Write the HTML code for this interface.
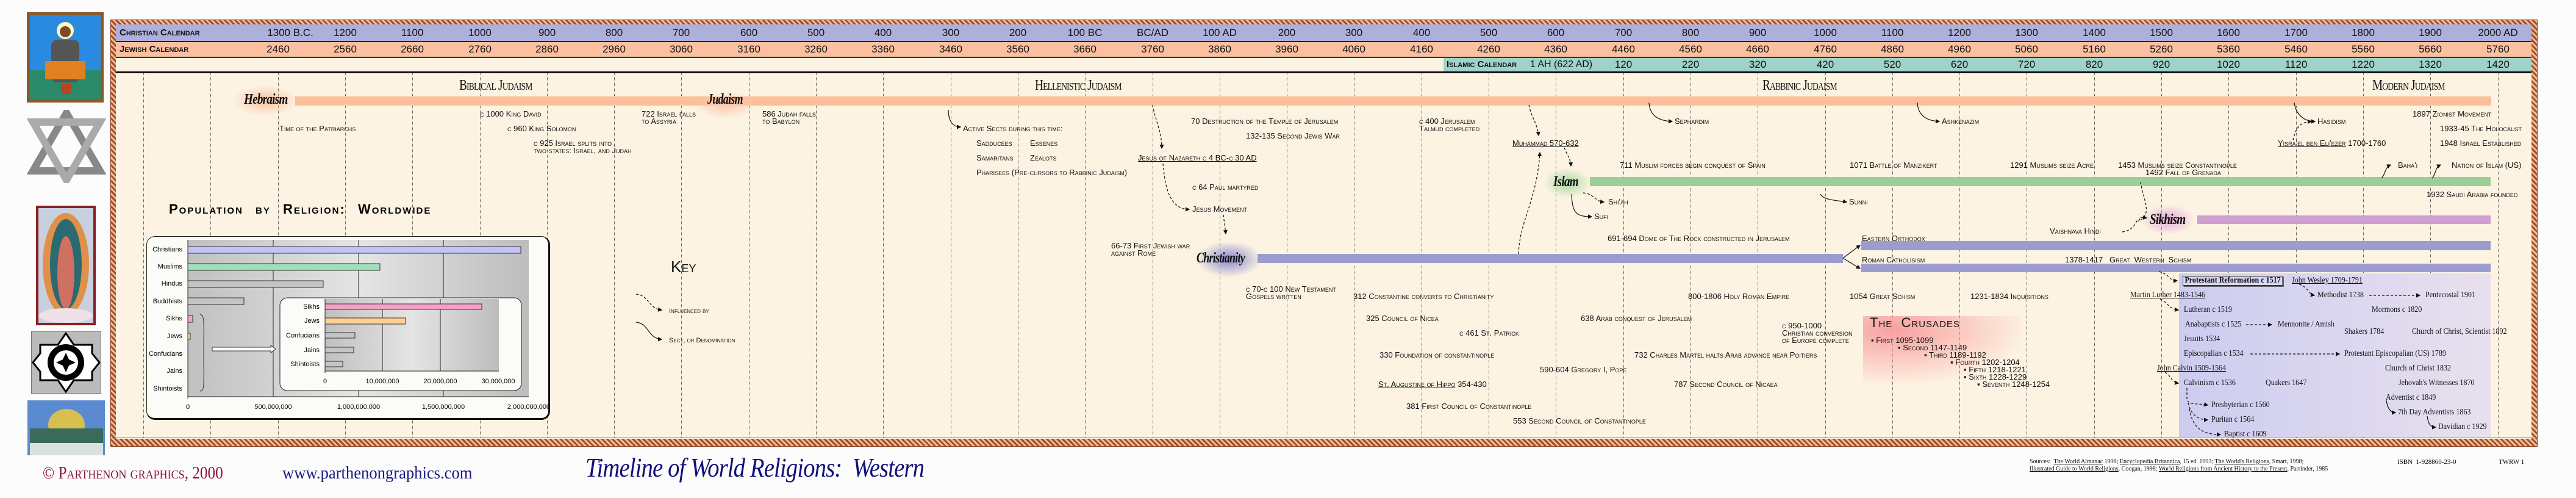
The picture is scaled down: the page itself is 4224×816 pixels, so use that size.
<!DOCTYPE html>
<html><head><meta charset="utf-8">
<style>
*{margin:0;padding:0;box-sizing:border-box}
body{width:4224px;height:816px;position:relative;overflow:hidden;background:#fcfcfc;font-family:"Liberation Sans",sans-serif}
.a{position:absolute}
.e{position:absolute;font:13px "Liberation Sans Narrow","Liberation Sans",sans-serif;font-variant:small-caps;white-space:nowrap;line-height:12px;color:#111}
.s{position:absolute;font:14px "Liberation Serif",serif;white-space:nowrap;line-height:14px;color:#111;transform:scaleX(.86);transform-origin:left}
.g{position:absolute;top:120px;height:597px;border-left:1px dotted #555}
.cal{position:absolute;font:17px "Liberation Sans Narrow","Liberation Sans",sans-serif;line-height:20px;width:90px;text-align:center;color:#111}
.lab{position:absolute;font:bold 15px "Liberation Sans",sans-serif;font-variant:small-caps;line-height:20px;color:#111}
.per{position:absolute;font:24px "Liberation Serif",serif;font-variant:small-caps;letter-spacing:-1px;white-space:nowrap;color:#111;transform:scaleX(.8);transform-origin:left}
.rel{position:absolute;font:italic bold 24px "Liberation Serif",serif;letter-spacing:-1px;white-space:nowrap;color:#111}
.bar{position:absolute}
.u{text-decoration:underline}
</style></head><body>

<svg class="a" style="left:44px;top:20px" width="126" height="148"><rect width="126" height="148" fill="#8a5a2a"/><rect x="5" y="5" width="116" height="138" fill="#2a8ae0"/><rect x="5" y="95" width="116" height="48" fill="#2a8a6a"/><circle cx="63" cy="30" r="14" fill="#fff8c0"/><circle cx="63" cy="32" r="9" fill="#7a4a2a"/><rect x="40" y="45" width="46" height="70" rx="10" fill="#555"/><rect x="30" y="80" width="66" height="30" fill="#e08020"/><rect x="56" y="118" width="16" height="16" fill="#c04020"/></svg>
<svg class="a" style="left:44px;top:180px" width="130" height="120"><polygon points="65,5 120,100 10,100" fill="none" stroke="#888" stroke-width="12"/><polygon points="65,115 120,20 10,20" fill="none" stroke="#aaa" stroke-width="12"/></svg>
<svg class="a" style="left:59px;top:337px" width="98" height="196"><rect width="98" height="196" fill="#8a2020"/><rect x="4" y="4" width="90" height="188" fill="#c8d0e0"/><ellipse cx="49" cy="96" rx="38" ry="84" fill="#e0904a"/><ellipse cx="49" cy="96" rx="26" ry="74" fill="#2a6a70"/><ellipse cx="49" cy="110" rx="14" ry="60" fill="#d07060"/><ellipse cx="49" cy="180" rx="44" ry="12" fill="#f0e0e8"/></svg>
<svg class="a" style="left:51px;top:543px" width="115" height="102"><rect width="115" height="102" fill="#bbb" stroke="#333"/><polygon points="57,3 70,22 100,22 100,36 112,51 100,66 100,80 70,80 57,99 44,80 15,80 15,66 3,51 15,36 15,22 44,22" fill="#fff" stroke="#000" stroke-width="3"/><circle cx="57" cy="51" r="30" fill="#000"/><circle cx="57" cy="51" r="20" fill="#fff"/><polygon points="57,35 62,46 73,51 62,56 57,67 52,56 41,51 52,46" fill="#000"/></svg>
<svg class="a" style="left:45px;top:656px" width="127" height="90"><rect width="127" height="90" fill="#5a8ad0"/><ellipse cx="64" cy="40" rx="30" ry="26" fill="#d8c050"/><rect x="4" y="46" width="120" height="44" fill="#3a6a5a"/><rect x="4" y="70" width="120" height="20" fill="#d8e0e0"/></svg>

<div class="a" style="left:181px;top:32px;width:3980px;height:700px;background:repeating-linear-gradient(45deg,#a84a28 0 3px,#e8c098 3px 6px);border:1px solid #8a3a1a"></div>
<div class="a" style="left:190px;top:40px;width:3961px;height:679px;background:#fdf3e2"></div>
<div class="a" style="left:190px;top:716px;width:3960px;height:2px;background:#a8c8e8"></div>

<div class="a" style="left:190px;top:40px;width:3961px;height:27px;background:#aeb0dc"></div>
<div class="a" style="left:190px;top:67px;width:3961px;height:2px;background:#222"></div>
<div class="a" style="left:190px;top:69px;width:3961px;height:24px;background:#fbc0a0"></div>
<div class="a" style="left:190px;top:93px;width:3961px;height:2px;background:#333"></div>
<div class="a" style="left:2367px;top:95px;width:1784px;height:22px;background:#9fd2c8"></div>
<div class="a" style="left:190px;top:117px;width:3961px;height:3px;background:#111"></div>
<div class="lab" style="left:196px;top:44px">Christian Calendar</div>
<div class="lab" style="left:196px;top:71px">Jewish Calendar</div>
<div class="lab" style="left:2372px;top:96px">Islamic Calendar</div>
<div class="cal" style="left:2505px;top:96px;width:110px;font-size:16px">1 AH (622 AD)</div>

<div class="g" style="left:235px"></div><div class="g" style="left:345px"></div><div class="g" style="left:456px"></div><div class="g" style="left:566px"></div><div class="g" style="left:676px"></div><div class="g" style="left:787px"></div><div class="g" style="left:897px"></div><div class="g" style="left:1007px"></div><div class="g" style="left:1117px"></div><div class="g" style="left:1228px"></div><div class="g" style="left:1338px"></div><div class="g" style="left:1448px"></div><div class="g" style="left:1559px"></div><div class="g" style="left:1669px"></div><div class="g" style="left:1779px"></div><div class="g" style="left:1890px"></div><div class="g" style="left:2000px"></div><div class="g" style="left:2110px"></div><div class="g" style="left:2220px"></div><div class="g" style="left:2331px"></div><div class="g" style="left:2441px"></div><div class="g" style="left:2551px"></div><div class="g" style="left:2662px"></div><div class="g" style="left:2772px"></div><div class="g" style="left:2882px"></div><div class="g" style="left:2993px"></div><div class="g" style="left:3103px"></div><div class="g" style="left:3213px"></div><div class="g" style="left:3323px"></div><div class="g" style="left:3434px"></div><div class="g" style="left:3544px"></div><div class="g" style="left:3654px"></div><div class="g" style="left:3765px"></div><div class="g" style="left:3875px"></div><div class="g" style="left:3985px"></div><div class="g" style="left:4096px"></div>

<div class="cal" style="left:421px;top:44px;width:110px">1300 B.C.</div>
<div class="cal" style="left:521px;top:44px">1200</div><div class="cal" style="left:631px;top:44px">1100</div><div class="cal" style="left:742px;top:44px">1000</div><div class="cal" style="left:852px;top:44px">900</div><div class="cal" style="left:962px;top:44px">800</div><div class="cal" style="left:1072px;top:44px">700</div><div class="cal" style="left:1183px;top:44px">600</div><div class="cal" style="left:1293px;top:44px">500</div><div class="cal" style="left:1403px;top:44px">400</div><div class="cal" style="left:1514px;top:44px">300</div><div class="cal" style="left:1624px;top:44px">200</div><div class="cal" style="left:1734px;top:44px">100 BC</div><div class="cal" style="left:1845px;top:44px">BC/AD</div><div class="cal" style="left:1955px;top:44px">100 AD</div><div class="cal" style="left:2065px;top:44px">200</div><div class="cal" style="left:2175px;top:44px">300</div><div class="cal" style="left:2286px;top:44px">400</div><div class="cal" style="left:2396px;top:44px">500</div><div class="cal" style="left:2506px;top:44px">600</div><div class="cal" style="left:2617px;top:44px">700</div><div class="cal" style="left:2727px;top:44px">800</div><div class="cal" style="left:2837px;top:44px">900</div><div class="cal" style="left:2948px;top:44px">1000</div><div class="cal" style="left:3058px;top:44px">1100</div><div class="cal" style="left:3168px;top:44px">1200</div><div class="cal" style="left:3278px;top:44px">1300</div><div class="cal" style="left:3389px;top:44px">1400</div><div class="cal" style="left:3499px;top:44px">1500</div><div class="cal" style="left:3609px;top:44px">1600</div><div class="cal" style="left:3720px;top:44px">1700</div><div class="cal" style="left:3830px;top:44px">1800</div><div class="cal" style="left:3940px;top:44px">1900</div><div class="cal" style="left:4051px;top:44px">2000 AD</div>
<div class="cal" style="left:411px;top:71px">2460</div><div class="cal" style="left:521px;top:71px">2560</div><div class="cal" style="left:631px;top:71px">2660</div><div class="cal" style="left:742px;top:71px">2760</div><div class="cal" style="left:852px;top:71px">2860</div><div class="cal" style="left:962px;top:71px">2960</div><div class="cal" style="left:1072px;top:71px">3060</div><div class="cal" style="left:1183px;top:71px">3160</div><div class="cal" style="left:1293px;top:71px">3260</div><div class="cal" style="left:1403px;top:71px">3360</div><div class="cal" style="left:1514px;top:71px">3460</div><div class="cal" style="left:1624px;top:71px">3560</div><div class="cal" style="left:1734px;top:71px">3660</div><div class="cal" style="left:1845px;top:71px">3760</div><div class="cal" style="left:1955px;top:71px">3860</div><div class="cal" style="left:2065px;top:71px">3960</div><div class="cal" style="left:2175px;top:71px">4060</div><div class="cal" style="left:2286px;top:71px">4160</div><div class="cal" style="left:2396px;top:71px">4260</div><div class="cal" style="left:2506px;top:71px">4360</div><div class="cal" style="left:2617px;top:71px">4460</div><div class="cal" style="left:2727px;top:71px">4560</div><div class="cal" style="left:2837px;top:71px">4660</div><div class="cal" style="left:2948px;top:71px">4760</div><div class="cal" style="left:3058px;top:71px">4860</div><div class="cal" style="left:3168px;top:71px">4960</div><div class="cal" style="left:3278px;top:71px">5060</div><div class="cal" style="left:3389px;top:71px">5160</div><div class="cal" style="left:3499px;top:71px">5260</div><div class="cal" style="left:3609px;top:71px">5360</div><div class="cal" style="left:3720px;top:71px">5460</div><div class="cal" style="left:3830px;top:71px">5560</div><div class="cal" style="left:3940px;top:71px">5660</div><div class="cal" style="left:4051px;top:71px">5760</div>
<div class="cal" style="left:2617px;top:96px">120</div><div class="cal" style="left:2727px;top:96px">220</div><div class="cal" style="left:2837px;top:96px">320</div><div class="cal" style="left:2948px;top:96px">420</div><div class="cal" style="left:3058px;top:96px">520</div><div class="cal" style="left:3168px;top:96px">620</div><div class="cal" style="left:3278px;top:96px">720</div><div class="cal" style="left:3389px;top:96px">820</div><div class="cal" style="left:3499px;top:96px">920</div><div class="cal" style="left:3609px;top:96px">1020</div><div class="cal" style="left:3720px;top:96px">1120</div><div class="cal" style="left:3830px;top:96px">1220</div><div class="cal" style="left:3940px;top:96px">1320</div><div class="cal" style="left:4051px;top:96px">1420</div>

<div class="per" style="left:753px;top:127px">Biblical Judaism</div>
<div class="per" style="left:1697px;top:127px">Hellenistic Judaism</div>
<div class="per" style="left:2890px;top:127px">Rabbinic Judaism</div>
<div class="per" style="left:3890px;top:127px">Modern Judaism</div>

<div class="bar" style="left:484px;top:158px;width:3601px;height:15px;background:#fbc09a"></div>
<div class="a" style="left:380px;top:140px;width:110px;height:50px;border-radius:50%;background:radial-gradient(#f9c0a0,rgba(253,243,226,0) 70%)"></div>
<div class="rel" style="left:400px;top:150px;transform:scaleX(.8);transform-origin:left">Hebraism</div>
<div class="a" style="left:1140px;top:150px;width:100px;height:45px;border-radius:50%;background:radial-gradient(#f9c8b0,rgba(253,243,226,0) 70%)"></div>
<div class="rel" style="left:1160px;top:150px;transform:scaleX(.75);transform-origin:left">Judaism</div>

<div class="bar" style="left:2607px;top:290px;width:1477px;height:15px;background:#9ccf98"></div>
<div class="a" style="left:2530px;top:275px;width:80px;height:50px;border-radius:50%;background:radial-gradient(#a8d8a0,rgba(253,243,226,0) 70%)"></div>
<div class="rel" style="left:2547px;top:285px;transform:scaleX(.8);transform-origin:left">Islam</div>

<div class="bar" style="left:2062px;top:416px;width:960px;height:15px;background:#9c9cd0"></div>
<div class="a" style="left:1960px;top:395px;width:110px;height:60px;border-radius:50%;background:radial-gradient(#8888cc,rgba(253,243,226,0) 70%)"></div>
<div class="rel" style="left:1962px;top:410px;transform:scaleX(.75);transform-origin:left">Christianity</div>
<div class="bar" style="left:3052px;top:395px;width:1032px;height:15px;background:#9c9cd0"></div>
<div class="bar" style="left:3052px;top:432px;width:1032px;height:14px;background:#9c9cd0"></div>

<div class="bar" style="left:3603px;top:353px;width:481px;height:14px;background:#d0a0d0"></div>
<div class="a" style="left:3510px;top:335px;width:90px;height:50px;border-radius:50%;background:radial-gradient(#e0a8d8,rgba(253,243,226,0) 70%)"></div>
<div class="rel" style="left:3525px;top:347px;transform:scaleX(.8);transform-origin:left">Sikhism</div>

<div class="a" style="left:3573px;top:448px;width:511px;height:268px;background:linear-gradient(90deg,#ccccf0,#e8e0ee)"></div>
<div class="a" style="left:3055px;top:518px;width:260px;height:110px;background:radial-gradient(ellipse at 20% 20%,#f7a0a0,rgba(253,243,226,0) 75%)"></div>

<div class="e" style="left:458px;top:205px">Time of the Patriarchs</div>
<div class="e" style="left:787px;top:181px">c 1000 King David</div>
<div class="e" style="left:832px;top:205px">c 960 King Solomon</div>
<div class="e" style="left:875px;top:229px">c 925 Israel splits into<br>two states: Israel, and Judah</div>
<div class="e" style="left:1052px;top:181px">722 Israel falls<br>to Assyria</div>
<div class="e" style="left:1250px;top:181px">586 Judah falls<br>to Babylon</div>
<div class="e" style="left:1579px;top:205px">Active Sects during this time:</div>
<div class="e" style="left:1601px;top:229px">Sadducees</div><div class="e" style="left:1689px;top:229px">Essenes</div>
<div class="e" style="left:1601px;top:253px">Samaritans</div><div class="e" style="left:1689px;top:253px">Zealots</div>
<div class="e" style="left:1601px;top:277px">Pharisees (Pre-cursors to Rabbinic Judaism)</div>
<div class="e" style="left:1822px;top:397px">66-73 First Jewish war<br>against Rome</div>
<div class="e" style="left:1953px;top:193px">70 Destruction of the Temple of Jerusalem</div>
<div class="e" style="left:2043px;top:217px">132-135 Second Jewis War</div>
<div class="e" style="left:2327px;top:193px">c 400 Jerusalem<br>Talmud completed</div>
<div class="e u" style="left:2480px;top:229px">Muhammad 570-632</div>
<div class="e u" style="left:1866px;top:253px">Jesus of Nazareth c 4 BC-c 30 AD</div>
<div class="e" style="left:1955px;top:301px">c 64 Paul martyred</div>
<div class="e" style="left:1955px;top:337px">Jesus Movement</div>
<div class="e" style="left:2656px;top:265px">711 Muslim forces begin conquest of Spain</div>
<div class="e" style="left:2637px;top:325px">Shi'ah</div>
<div class="e" style="left:2614px;top:349px">Sufi</div>
<div class="e" style="left:2636px;top:385px">691-694 Dome of The Rock constructed in Jerusalem</div>
<div class="e" style="left:3032px;top:325px">Sunni</div>
<div class="e" style="left:2746px;top:193px">Sephardim</div>
<div class="e" style="left:3184px;top:193px">Ashkenazim</div>
<div class="e" style="left:3800px;top:193px">Hasidism</div>
<div class="e" style="left:3956px;top:181px">1897 Zionist Movement</div>
<div class="e" style="left:4001px;top:205px">1933-45 The Holocaust</div>
<div class="e" style="left:4001px;top:229px">1948 Israel Established</div>
<div class="e" style="left:3735px;top:229px"><span class="u">Yisra'el ben Eli'ezer</span> 1700-1760</div>
<div class="e" style="left:3033px;top:265px">1071 Battle of Manzikert</div>
<div class="e" style="left:3296px;top:265px">1291 Muslims seize Acre</div>
<div class="e" style="left:3473px;top:265px">1453 Muslims seize Constantinople</div>
<div class="e" style="left:3518px;top:277px">1492 Fall of Grenada</div>
<div class="e" style="left:3932px;top:265px">Baha'i</div>
<div class="e" style="left:4020px;top:265px">Nation of Islam (US)</div>
<div class="e" style="left:3979px;top:313px">1932 Saudi Arabia founded</div>
<div class="e" style="left:3361px;top:373px">Vaishnava Hindi</div>
<div class="e" style="left:3053px;top:385px">Eastern Orthodox</div>
<div class="e" style="left:3053px;top:420px">Roman Catholisism</div>
<div class="e" style="left:3386px;top:420px">1378-1417 &nbsp; Great &nbsp;Western &nbsp;Schism</div>
<div class="e" style="left:2043px;top:468px">c 70-c 100 New Testament<br>Gospels written</div>
<div class="e" style="left:2219px;top:480px">312 Constantine converts to Christianity</div>
<div class="e" style="left:2240px;top:516px">325 Council of Nicea</div>
<div class="e" style="left:2592px;top:516px">638 Arab conquest of Jerusalem</div>
<div class="e" style="left:2393px;top:540px">c 461 St. Patrick</div>
<div class="e" style="left:2262px;top:576px">330 Foundation of constantinople</div>
<div class="e" style="left:2680px;top:576px">732 Charles Martel halts Arab advance near Poitiers</div>
<div class="e" style="left:2525px;top:600px">590-604 Gregory I, Pope</div>
<div class="e" style="left:2260px;top:624px"><span class="u">St. Augustine of Hippo</span> 354-430</div>
<div class="e" style="left:2306px;top:660px">381 First Council of Constantinople</div>
<div class="e" style="left:2481px;top:684px">553 Second Council of Constantinople</div>
<div class="e" style="left:2768px;top:480px">800-1806 Holy Roman Empire</div>
<div class="e" style="left:3033px;top:480px">1054 Great Schism</div>
<div class="e" style="left:3231px;top:480px">1231-1834 Inquisitions</div>
<div class="e" style="left:2922px;top:528px">c 950-1000<br>Christian conversion<br>of Europe complete</div>
<div class="e" style="left:2745px;top:624px">787 Second Council of Nicaea</div>
<div class="e" style="left:3066px;top:518px;font-size:22px;line-height:22px;letter-spacing:1px">The &nbsp;Crusades</div>
<div class="e" style="left:3068px;top:552px">▪ First 1095-1099</div>
<div class="e" style="left:3112px;top:564px">▪ Second 1147-1149</div>
<div class="e" style="left:3155px;top:576px">▪ Third 1189-1192</div>
<div class="e" style="left:3198px;top:588px">▪ Fourth 1202-1204</div>
<div class="e" style="left:3220px;top:600px">▪ Fifth 1218-1221</div>
<div class="e" style="left:3220px;top:612px">▪ Sixth 1228-1229</div>
<div class="e" style="left:3242px;top:624px">▪ Seventh 1248-1254</div>

<div class="s" style="left:3579px;top:452px;font-weight:bold;border:1px solid #222;box-shadow:2px 2px 0 #666;padding:0 3px;background:#d8d8f4">Protestant Reformation c 1517</div>
<div class="s u" style="left:3758px;top:453px">John Wesley 1709-1791</div>
<div class="s u" style="left:3493px;top:477px">Martin Luther 1483-1546</div>
<div class="s" style="left:3800px;top:477px">Methodist 1738</div>
<div class="s" style="left:3977px;top:477px">Pentecostal 1901</div>
<div class="s" style="left:3581px;top:501px">Lutheran c 1519</div>
<div class="s" style="left:3889px;top:501px">Mormons c 1820</div>
<div class="s" style="left:3583px;top:525px">Anabaptists c 1525</div>
<div class="s" style="left:3735px;top:525px">Mennonite / Amish</div>
<div class="s" style="left:3844px;top:537px">Shakers 1784</div>
<div class="s" style="left:3955px;top:537px">Church of Christ, Scientist 1892</div>
<div class="s" style="left:3581px;top:549px">Jesuits 1534</div>
<div class="s" style="left:3581px;top:573px">Episcopalian c 1534</div>
<div class="s" style="left:3844px;top:573px">Protestant Episcopalian (US) 1789</div>
<div class="s u" style="left:3537px;top:597px">John Calvin 1509-1564</div>
<div class="s" style="left:3911px;top:597px">Church of Christ 1832</div>
<div class="s" style="left:3581px;top:621px">Calvinism c 1536</div>
<div class="s" style="left:3715px;top:621px">Quakers 1647</div>
<div class="s" style="left:3933px;top:621px">Jehovah's Witnesses 1870</div>
<div class="s" style="left:3912px;top:645px">Adventist c 1849</div>
<div class="s" style="left:3626px;top:657px">Presbyterian c 1560</div>
<div class="s" style="left:3932px;top:669px">7th Day Adventists 1863</div>
<div class="s" style="left:3626px;top:681px">Puritan c 1564</div>
<div class="s" style="left:3998px;top:693px">Davidian c 1929</div>
<div class="s" style="left:3647px;top:705px">Baptist c 1609</div>

<div class="e" style="left:1100px;top:424px;font-size:26px;line-height:26px">Key</div>
<div class="e" style="left:1097px;top:504px;font-size:11px">Influenced by</div>
<div class="e" style="left:1097px;top:552px;font-size:11px">Sect, or Denomination</div>

<svg class="a" style="left:0;top:0" width="4224" height="816" fill="none" stroke="#111" stroke-width="1.2">
<defs><marker id="m" markerWidth="6" markerHeight="6" refX="5" refY="3" orient="auto"><path d="M0,0 L6,3 L0,6z" fill="#111" stroke="none"/></marker></defs>
<g stroke-dasharray="4,3">
<path d="M1043,482 C1065,484 1062,505 1085,508" marker-end="url(#m)"/>
<path d="M1890,172 C1895,200 1905,215 1905,243" marker-end="url(#m)"/>
<path d="M1907,268 C1910,300 1915,343 1950,343" marker-end="url(#m)"/>
<path d="M2006,352 L2010,383" marker-end="url(#m)"/>
<path d="M2507,172 C2512,195 2520,200 2523,222" marker-end="url(#m)"/>
<path d="M2565,242 C2570,255 2575,260 2576,272" marker-end="url(#m)"/>
<path d="M2490,416 C2492,360 2520,330 2525,250" marker-end="url(#m)"/>
<path d="M2596,316 C2615,318 2615,330 2630,331" marker-end="url(#m)"/>
<path d="M3760,230 C3765,205 3775,200 3790,199" marker-end="url(#m)"/>
<path d="M3510,298 C3515,330 3530,350 3507,362 L3510,356 L3520,357" marker-end="url(#m)"/>
<path d="M3480,380 C3495,378 3500,370 3505,360"/>
<path d="M3540,445 C3560,450 3555,460 3570,460" marker-end="url(#m)"/>
<path d="M3770,466 C3785,470 3785,482 3795,484" marker-end="url(#m)"/>
<path d="M3885,484 L3968,484" marker-end="url(#m)"/>
<path d="M3542,490 C3555,495 3555,506 3572,508" marker-end="url(#m)"/>
<path d="M3683,532 L3725,532" marker-end="url(#m)"/>
<path d="M3690,580 L3836,580" marker-end="url(#m)"/>
<path d="M3550,610 C3560,615 3560,626 3572,628" marker-end="url(#m)"/>
<path d="M3586,636 L3586,655 C3590,665 3605,660 3620,664" marker-end="url(#m)"/>
<path d="M3588,660 C3592,680 3605,688 3620,688" marker-end="url(#m)"/>
<path d="M3590,670 C3595,700 3610,712 3641,712" marker-end="url(#m)"/>
</g>
<path d="M1043,528 C1065,530 1062,555 1085,556" marker-end="url(#m)"/>
<path d="M1555,180 C1555,195 1560,208 1575,208" marker-end="url(#m)"/>
<path d="M2577,318 C2578,350 2585,355 2610,355" marker-end="url(#m)"/>
<path d="M2704,168 C2705,190 2720,198 2742,199" marker-end="url(#m)"/>
<path d="M3144,168 C3145,190 3160,198 3180,199" marker-end="url(#m)"/>
<path d="M3762,168 C3765,190 3780,199 3796,199" marker-end="url(#m)"/>
<path d="M2985,318 C2990,328 3010,328 3028,331" marker-end="url(#m)"/>
<path d="M3022,423 L3050,402" marker-end="url(#m)"/>
<path d="M3022,423 L3050,440" marker-end="url(#m)"/>
<path d="M3905,292 C3912,285 3910,275 3920,270" marker-end="url(#m)"/>
<path d="M3988,292 C3995,285 3992,275 4002,270" marker-end="url(#m)"/>
<path d="M3913,656 C3915,670 3920,676 3928,676" marker-end="url(#m)"/>
<path d="M3980,682 C3982,695 3985,700 3994,700" marker-end="url(#m)"/>
</svg>

<div class="a" style="left:277px;top:330px;font:bold 22px 'Liberation Sans',sans-serif;font-variant:small-caps;letter-spacing:2px;word-spacing:12px;white-space:nowrap">Population by Religion: Worldwide</div>
<div class="a" style="left:240px;top:387px;width:662px;height:301px;background:#fbfbf8;border:1px solid #222;border-right:3px solid #111;border-bottom:3px solid #111;border-radius:14px"></div>
<svg class="a" style="left:240px;top:387px" width="662" height="301" font-family="Liberation Sans Narrow,Liberation Sans,sans-serif" font-size="11">
<defs><linearGradient id="pg" x1="0" x2="1"><stop offset="0" stop-color="#c0c0c0"/><stop offset=".5" stop-color="#e4e4e4"/><stop offset="1" stop-color="#bdbdbd"/></linearGradient></defs>
<rect x="68" y="6" width="559" height="257" fill="url(#pg)"/>
<g stroke="#222"><line x1="208" y1="6" x2="208" y2="263"/><line x1="348" y1="6" x2="348" y2="263"/><line x1="487" y1="6" x2="487" y2="263"/><line x1="68" y1="6" x2="68" y2="266"/><line x1="68" y1="263" x2="627" y2="263"/></g>
<g stroke="#333"><rect x="68" y="17" width="546" height="11" fill="#c4c4f4"/><rect x="68" y="45" width="315" height="11" fill="#9ee0b8"/><rect x="68" y="73" width="222" height="11" fill="#c4c4c4"/><rect x="68" y="101" width="92" height="11" fill="#c4c4c4"/><rect x="68" y="130" width="8" height="11" fill="#f4a0c8"/><rect x="68" y="159" width="4" height="10" fill="#ffd090"/></g>
<g text-anchor="end"><text x="59" y="25">Christians</text><text x="59" y="53">Muslims</text><text x="59" y="81">Hindus</text><text x="59" y="110">Buddhists</text><text x="59" y="138">Sikhs</text><text x="59" y="167">Jews</text><text x="59" y="196">Confucians</text><text x="59" y="224">Jains</text><text x="59" y="253">Shintoists</text></g>
<g text-anchor="middle"><text x="68" y="283">0</text><text x="208" y="283">500,000,000</text><text x="348" y="283">1,000,000,000</text><text x="487" y="283">1,500,000,000</text><text x="627" y="283">2,000,000,000</text></g>
<path d="M88,128 C96,130 94,140 94,190 C94,245 96,252 88,254" stroke="#333" fill="none"/>
<polygon points="108,182 204,182 204,179 212,185 204,191 204,188 108,188" fill="#fff" stroke="#333"/>
<rect x="219" y="101" width="396" height="152" rx="12" fill="#fbfbf8" stroke="#222"/>
<rect x="293" y="103" width="285" height="118" fill="url(#pg)"/>
<g stroke="#222"><line x1="387" y1="103" x2="387" y2="221"/><line x1="482" y1="103" x2="482" y2="221"/><line x1="293" y1="103" x2="293" y2="224"/><line x1="293" y1="221" x2="578" y2="221"/></g>
<g stroke="#333"><rect x="293" y="111" width="257" height="9" fill="#f4a0c8"/><rect x="293" y="134" width="132" height="10" fill="#ffd090"/><rect x="293" y="158" width="49" height="9" fill="#c4c4c4"/><rect x="293" y="182" width="47" height="9" fill="#c4c4c4"/><rect x="293" y="205" width="29" height="9" fill="#c4c4c4"/></g>
<g text-anchor="end"><text x="284" y="119">Sikhs</text><text x="284" y="142">Jews</text><text x="284" y="166">Confucians</text><text x="284" y="190">Jains</text><text x="284" y="213">Shintoists</text></g>
<g text-anchor="middle"><text x="293" y="241">0</text><text x="387" y="241">10,000,000</text><text x="482" y="241">20,000,000</text><text x="577" y="241">30,000,000</text></g>
</svg>

<div class="a" style="left:70px;top:760px;font:28px 'Liberation Serif',serif;color:#8b1535;white-space:nowrap;font-variant:small-caps;transform:scaleX(.9);transform-origin:left">© Parthenon graphics, 2000</div>
<div class="a" style="left:463px;top:760px;font:28px 'Liberation Serif',serif;color:#1a1a80;white-space:nowrap;transform:scaleX(.95);transform-origin:left">www.parthenongraphics.com</div>
<div class="a" style="left:960px;top:741px;font:italic 44px 'Liberation Serif',serif;color:#10107a;white-space:nowrap;transform:scaleX(.88);transform-origin:left;letter-spacing:-1px">Timeline of World Religions: &nbsp;Western</div>
<div class="a" style="left:3328px;top:751px;font:10px 'Liberation Serif',serif;line-height:12px;white-space:nowrap;color:#111">Sources: &nbsp;<u>The World Almanac</u> 1998; <u>Encyclopedia Britannica</u>, 15 ed. 1993; <u>The World's Religions</u>, Smart, 1998;<br><u>Illustrated Guide to World Religions</u>, Coogan, 1998; <u>World Religions from Ancient History to the Present</u>, Parrinder, 1985</div>
<div class="a" style="left:3931px;top:751px;font:11px 'Liberation Serif',serif;white-space:nowrap">ISBN &nbsp;1-928860-23-0</div>
<div class="a" style="left:4097px;top:751px;font:11px 'Liberation Serif',serif;white-space:nowrap">TWRW 1</div>
</body></html>
